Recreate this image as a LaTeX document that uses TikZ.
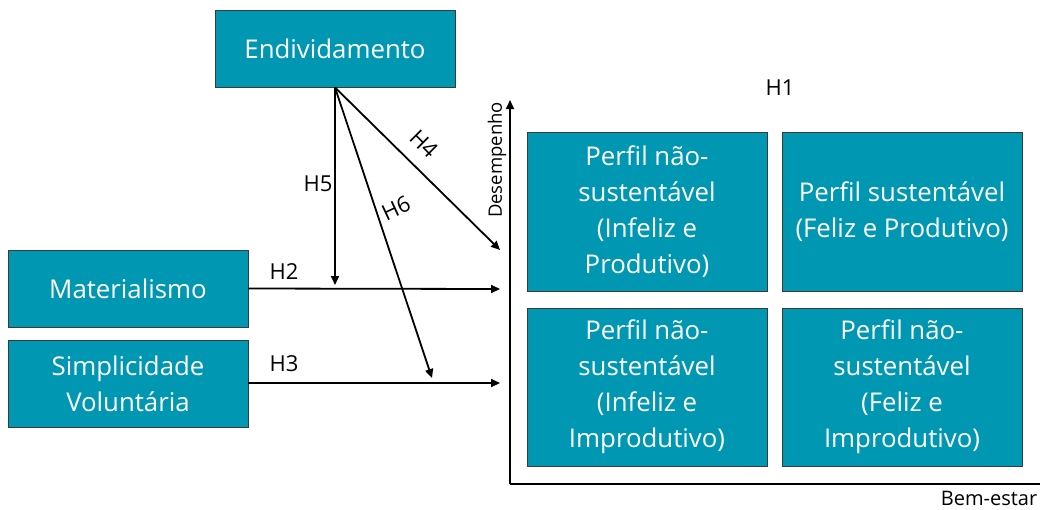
\documentclass[tikz,border=0pt]{standalone}
\usepackage{fontspec}
\setmainfont{Open Sans}
\usetikzlibrary{arrows.meta}
\definecolor{teal1}{HTML}{0097B2}
\definecolor{edge1}{HTML}{3A3A3A}
\tikzset{
  box/.style={draw=edge1, line width=0.9pt, fill=teal1, text=white, align=center,
    inner sep=0pt, font=\fontsize{25.8}{36}\selectfont},
  conn/.style={line width=1.8pt, -{Triangle[length=9pt,width=8pt]}},
  hlab/.style={font=\fontsize{22}{26}\selectfont, inner sep=0pt},
}
\begin{document}
\begin{tikzpicture}[x=1pt,y=-1pt]
\useasboundingbox (0,0) rectangle (1040,509);
\node[box, minimum width=240, minimum height=77] (end) at (335,48.5) {Endividamento};
\node[box, minimum width=240, minimum height=77] (mat) at (128,288.5) {Materialismo};
\node[box, minimum width=240, minimum height=87] (simp) at (128,383.5) {Simplicidade\\Voluntária};
\node[box, minimum width=240, minimum height=159] (q1) at (647,211.5) {Perfil não-\\sustentável\\(Infeliz e\\Produtivo)};
\node[box, minimum width=240, minimum height=159] (q2) at (902,211.5) {Perfil sustentável\\(Feliz e Produtivo)};
\node[box, minimum width=240, minimum height=158] (q3) at (647,387) {Perfil não-\\sustentável\\(Infeliz e\\Improdutivo)};
\node[box, minimum width=240, minimum height=158] (q4) at (902,387) {Perfil não-\\sustentável\\(Feliz e\\Improdutivo)};
% axes
\coordinate (o) at (510,484);
\coordinate (ytop) at (510,100);
\coordinate (xend) at (1041,484);
\draw[line width=1.8pt, -{Triangle[length=9pt,width=8pt]}] (o) -- (ytop);
\draw[line width=1.8pt] (o) -- (xend);
\node[rotate=90, font=\fontsize{18.5}{22}\selectfont, inner sep=0pt] (desemp) at (497,160) {Desempenho};
\node[font=\fontsize{20}{24}\selectfont, inner sep=0pt] (bem) at (989,498) {Bem-estar};
\node[hlab] (h1) at (780,88) {H1};
% connectors
\coordinate (e5) at (335,285);
\coordinate (e4) at (500,250);
\coordinate (e6) at (432,378);
\coordinate (e2) at (500,289);
\coordinate (e3) at (500,383);
\draw[conn] (end.south) -- (e5);
\draw[conn] (end.south) -- (e4);
\draw[conn] (end.south) -- (e6);
\draw[conn] (mat.east) -- (e2);
\draw[conn] (simp.east |- e3) -- (e3);
\node[hlab] (h5) at (318,184) {H5};
\node[hlab, rotate=-45] (h4) at (424,144) {H4};
\node[hlab, rotate=25] (h6) at (396,208) {H6};
\node[hlab] (h2) at (284,272) {H2};
\node[hlab] (h3) at (284,364) {H3};
\end{tikzpicture}
\end{document}
